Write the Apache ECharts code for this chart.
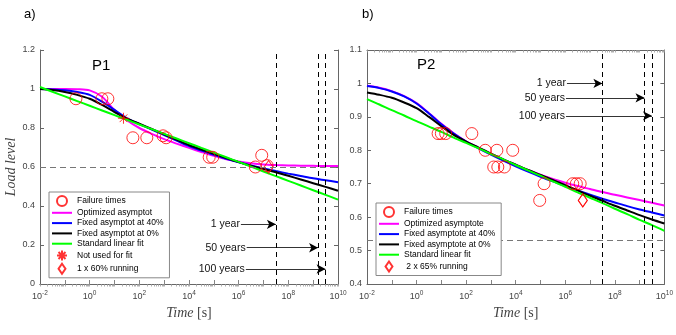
<!DOCTYPE html>
<html>
<head>
<meta charset="utf-8">
<script src="https://cdn.jsdelivr.net/npm/echarts@6/dist/echarts.min.js"></script>
<style>
  html, body { margin: 0; padding: 0; background: #fff; }
  #chart { width: 676px; height: 335px; }
</style>
</head>
<body>
<div id="chart"></div>
<script>
// sample times of the fitted curves [s]
const curveTimes = [1e-2, 3.16e-2, 1e-1, 3.16e-1, 1, 3.16, 10, 31.6, 100, 316, 1e3, 3.16e3,
  1e4, 3.16e4, 1e5, 3.16e5, 1e6, 3.16e6, 1e7, 3.16e7, 1e8, 3.16e8, 1e9, 3.16e9, 1e10];

// panel a) P1
const p1Optimized = [1.000, 1.000, 1.000, 0.999, 0.993, 0.960, 0.892, 0.840, 0.800, 0.770, 0.743, 0.720,
  0.698, 0.677, 0.657, 0.640, 0.628, 0.619, 0.613, 0.610, 0.608, 0.607, 0.606, 0.605, 0.605];
const p1Fixed40 = [1.000, 0.998, 0.994, 0.985, 0.970, 0.935, 0.893, 0.850, 0.820, 0.792, 0.764, 0.735,
  0.707, 0.684, 0.662, 0.642, 0.624, 0.608, 0.593, 0.579, 0.566, 0.554, 0.542, 0.532, 0.522];
const p1Fixed0 = [1.000, 0.995, 0.985, 0.970, 0.950, 0.918, 0.882, 0.848, 0.822, 0.795, 0.768, 0.740,
  0.713, 0.690, 0.668, 0.646, 0.625, 0.606, 0.589, 0.573, 0.555, 0.536, 0.517, 0.498, 0.478];
const p1Linear = [1.010, 0.986, 0.962, 0.938, 0.914, 0.890, 0.866, 0.842, 0.818, 0.794, 0.770, 0.746,
  0.722, 0.698, 0.674, 0.650, 0.626, 0.602, 0.577, 0.553, 0.529, 0.505, 0.481, 0.457, 0.433];
const p1FailTimes = [0.28, 3.1, 5.4, 55, 200, 900, 1.2e3, 6.5e4, 9e4, 4.7e6, 8.5e6, 1.4e7];
const p1FailLevels = [0.95, 0.95, 0.95, 0.75, 0.75, 0.76, 0.75, 0.65, 0.65, 0.60, 0.66, 0.607];
const p1NotUsed = [[23, 0.85]];
const p1Running = [[1.6e7, 0.60]];
const p1ArrowLevels = [0.306, 0.186, 0.077];
const p1ArrowStarts = [1.23e6, 2.1e6, 1.95e6];
const p1RefLevel = 0.6;

// panel b) P2
const p2Optimized = [0.993, 0.987, 0.977, 0.962, 0.941, 0.911, 0.879, 0.851, 0.827, 0.808, 0.790, 0.773,
  0.757, 0.741, 0.727, 0.714, 0.703, 0.693, 0.684, 0.675, 0.667, 0.659, 0.651, 0.643, 0.635];
const p2Fixed40 = [0.992, 0.986, 0.976, 0.961, 0.940, 0.910, 0.878, 0.850, 0.826, 0.806, 0.787, 0.769,
  0.752, 0.736, 0.721, 0.707, 0.693, 0.680, 0.667, 0.655, 0.644, 0.633, 0.623, 0.614, 0.605];
const p2Fixed0 = [0.973, 0.966, 0.957, 0.943, 0.926, 0.900, 0.872, 0.846, 0.826, 0.808, 0.790, 0.773,
  0.757, 0.741, 0.726, 0.711, 0.696, 0.680, 0.664, 0.649, 0.634, 0.620, 0.606, 0.593, 0.581];
const p2Linear = [0.953, 0.937, 0.920, 0.904, 0.887, 0.871, 0.855, 0.838, 0.822, 0.806, 0.789, 0.773,
  0.756, 0.740, 0.724, 0.707, 0.691, 0.674, 0.658, 0.642, 0.625, 0.609, 0.592, 0.576, 0.559];
const p2FailTimes = [7.4, 10, 15, 170, 590, 1.74e3, 7.6e3, 1.3e3, 1.9e3, 3.5e3, 1.4e5, 9.3e4, 2.0e6, 2.8e6, 4.0e6];
const p2FailLevels = [0.85, 0.85, 0.85, 0.85, 0.80, 0.80, 0.80, 0.75, 0.75, 0.75, 0.70, 0.65, 0.70, 0.70, 0.70];
const p2Running = [[5.1e6, 0.65], [5.1e6, 0.65]];
const p2ArrowLevels = [1.0, 0.957, 0.903];
const p2ArrowStarts = [1.17e6, 1.07e6, 1.07e6];
const p2RefLevel = 0.527;

// shared
const arrowLabels = ['1 year', '50 years', '100 years'];
const lifeTimes = [3.156e7, 1.578e9, 3.156e9];
const xLabelValues = [1e-2, 1, 1e2, 1e4, 1e6, 1e8, 1e10];
const decades = [1e-2, 1e-1, 1, 10, 1e2, 1e3, 1e4, 1e5, 1e6, 1e7, 1e8, 1e9, 1e10];
const yTicks1 = { min: 0, max: 1.2, interval: 0.2 };
const yTicks2 = { min: 0.4, max: 1.1, interval: 0.1 };

const names1 = ['Failure times', 'Optimized asymptot', 'Fixed asymptot at 40%', 'Fixed asymptot at 0%',
  'Standard linear fit', 'Not used for fit', '1 x 60% running'];
const names2 = ['Failure times', 'Optimized asymptote', 'Fixed asymptote at 40%', 'Fixed asymptote at 0%',
  'Standard linear fit', ' 2 x 65% running'];

const FONT = 'Liberation Sans, Arial, sans-serif';
const SERIF = 'Liberation Serif, DejaVu Serif, serif';
const AXIS_COL = '#666';
const starPath = 'path://M0,-1L0,1M-1,0L1,0M-0.7,-0.7L0.7,0.7M-0.7,0.7L0.7,-0.7';
const linePath = 'path://M0,0L20,0L20,2L0,2Z';
const diamondPath = 'path://M4.5,0L9,6.5L4.5,13L0,6.5Z';

// minor log ticks 2..9 inside each decade
const minorTicks = [];
decades.forEach(d => {
  if (d < 1e10) for (let k = 2; k <= 9; k++) minorTicks.push(d * k);
});

const pair = (xs, ys) => xs.map((x, i) => [x, ys[i]]);

function logAxis(grid, position, ticks, tickLen, tickCol, extra) {
  return Object.assign({
    type: 'log', logBase: 10, min: 1e-2, max: 1e10, gridIndex: grid, position,
    axisLine: { show: true, lineStyle: { color: AXIS_COL, width: 1 } },
    axisTick: { show: true, inside: true, length: tickLen, customValues: ticks,
      lineStyle: { color: tickCol, width: 0.8 } },
    axisLabel: { show: false },
    splitLine: { show: false }
  }, extra || {});
}

function xAxes(grid) {
  return [
    logAxis(grid, 'bottom', decades, 4, AXIS_COL, {
      name: '{i|Time} [s]', nameLocation: 'middle', nameGap: 19,
      nameTextStyle: { fontFamily: SERIF, fontSize: 14, color: '#444',
        rich: { i: { fontFamily: SERIF, fontStyle: 'italic', fontSize: 14, color: '#444' } } },
      axisLabel: {
        margin: 6, color: '#444', fontFamily: FONT, fontSize: 9, customValues: xLabelValues,
        formatter: v => '10{sup|' + Math.round(Math.log10(v)) + '}',
        rich: { sup: { fontSize: 6.5, fontFamily: FONT, color: '#444', padding: [0, 0, 6, 0] } }
      }
    }),
    logAxis(grid, 'top', minorTicks.concat(decades), 2.5, '#999')
  ];
}

function yAxes(grid, ticks, withName) {
  const base = Object.assign({
    type: 'value', gridIndex: grid,
    axisLine: { show: true, lineStyle: { color: AXIS_COL, width: 1 } },
    axisTick: { show: true, inside: true, length: 4, lineStyle: { color: AXIS_COL } },
    splitLine: { show: false }
  }, ticks);
  const left = Object.assign({}, base, {
    position: 'left',
    axisLabel: { color: '#444', fontFamily: FONT, fontSize: 9, margin: 5 }
  });
  if (withName) {
    Object.assign(left, {
      name: 'Load level', nameLocation: 'middle', nameGap: 22,
      nameTextStyle: { fontFamily: SERIF, fontStyle: 'italic', fontSize: 14, color: '#444' }
    });
  }
  return [left, Object.assign({}, base, { position: 'right', axisLabel: { show: false } })];
}

function curve(name, color, ys, xi, yi) {
  return {
    name, type: 'line', xAxisIndex: xi, yAxisIndex: yi, data: pair(curveTimes, ys),
    smooth: 0.3, symbol: 'none', lineStyle: { color, width: 2 }, itemStyle: { color }, z: 3
  };
}

function markers(name, symbol, size, data, xi, yi) {
  return {
    name, type: 'scatter', xAxisIndex: xi, yAxisIndex: yi, data, symbol, symbolSize: size,
    itemStyle: { color: 'rgba(0,0,0,0)', borderColor: '#ff0000', borderWidth: 1 }, z: 4
  };
}

function guides(xi, yi, refLevel, arrowLevels, arrowStarts) {
  const data = [{ yAxis: refLevel, lineStyle: { color: '#777', type: [6, 4], width: 1 } }];
  lifeTimes.forEach(t => data.push({ xAxis: t, lineStyle: { color: '#000', type: [5, 4], width: 1 } }));
  arrowLabels.forEach((lab, i) => data.push([
    { coord: [arrowStarts[i], arrowLevels[i]], symbol: 'none', name: lab,
      lineStyle: { color: '#000', type: 'solid', width: 0.8 },
      label: { show: true, position: 'start', distance: 1, formatter: '{b}',
        fontFamily: FONT, fontSize: 10.5, color: '#111' } },
    { coord: [lifeTimes[i], arrowLevels[i]], symbol: 'arrow' }
  ]));
  return {
    name: 'guides', type: 'line', xAxisIndex: xi, yAxisIndex: yi, data: [], z: 1,
    markLine: { silent: true, animation: false, symbol: 'none', symbolSize: [7, 9],
      label: { show: false }, data }
  };
}

function legend(left, top, names, icons) {
  return {
    orient: 'vertical', left, top, selectedMode: false, z: 20,
    data: names.map((n, i) => ({ name: n, icon: icons[i] })),
    itemWidth: 20, itemHeight: 10, itemGap: 1.3, padding: [3, 6, 3, 3],
    borderColor: '#888', borderWidth: 1, backgroundColor: '#fff',
    textStyle: { fontFamily: FONT, fontSize: 8.5, color: '#000' }
  };
}

const chart = echarts.init(document.getElementById('chart'), null, { renderer: 'canvas' });
chart.setOption({
  animation: false,
  backgroundColor: '#fff',
  grid: [
    { left: 40, top: 50, width: 298, height: 234 },
    { left: 367, top: 50, width: 301, height: 234 }
  ],
  xAxis: xAxes(0).concat(xAxes(1)),
  yAxis: yAxes(0, yTicks1, true).concat(yAxes(1, yTicks2, false)),
  legend: [
    legend(49, 192, names1, ['circle', linePath, linePath, linePath, linePath, starPath, diamondPath]),
    legend(376, 203, names2, ['circle', linePath, linePath, linePath, linePath, diamondPath])
  ],
  graphic: [
    { type: 'text', left: 24, top: 8, style: { text: 'a)', font: '13px ' + FONT, fill: '#000' } },
    { type: 'text', left: 362, top: 8, style: { text: 'b)', font: '13px ' + FONT, fill: '#000' } },
    { type: 'text', left: 92, top: 58, style: { text: 'P1', font: '15px ' + FONT, fill: '#000' } },
    { type: 'text', left: 417, top: 57, style: { text: 'P2', font: '15px ' + FONT, fill: '#000' } }
  ],
  series: [
    guides(0, 0, p1RefLevel, p1ArrowLevels, p1ArrowStarts),
    curve(names1[1], '#ff00ff', p1Optimized, 0, 0),
    curve(names1[2], '#0000ff', p1Fixed40, 0, 0),
    curve(names1[3], '#000000', p1Fixed0, 0, 0),
    curve(names1[4], '#00ff00', p1Linear, 0, 0),
    markers(names1[0], 'circle', 12, pair(p1FailTimes, p1FailLevels), 0, 0),
    markers(names1[5], starPath, 11, p1NotUsed, 0, 0),
    markers(names1[6], 'diamond', [9, 13], p1Running, 0, 0),

    guides(2, 2, p2RefLevel, p2ArrowLevels, p2ArrowStarts),
    curve(names2[1], '#ff00ff', p2Optimized, 2, 2),
    curve(names2[2], '#0000ff', p2Fixed40, 2, 2),
    curve(names2[3], '#000000', p2Fixed0, 2, 2),
    curve('Standard linear fit', '#00ff00', p2Linear, 2, 2),
    markers('Failure times', 'circle', 12, pair(p2FailTimes, p2FailLevels), 2, 2),
    markers(names2[5], 'diamond', [9, 13], p2Running, 2, 2)
  ]
});
</script>
</body>
</html>
